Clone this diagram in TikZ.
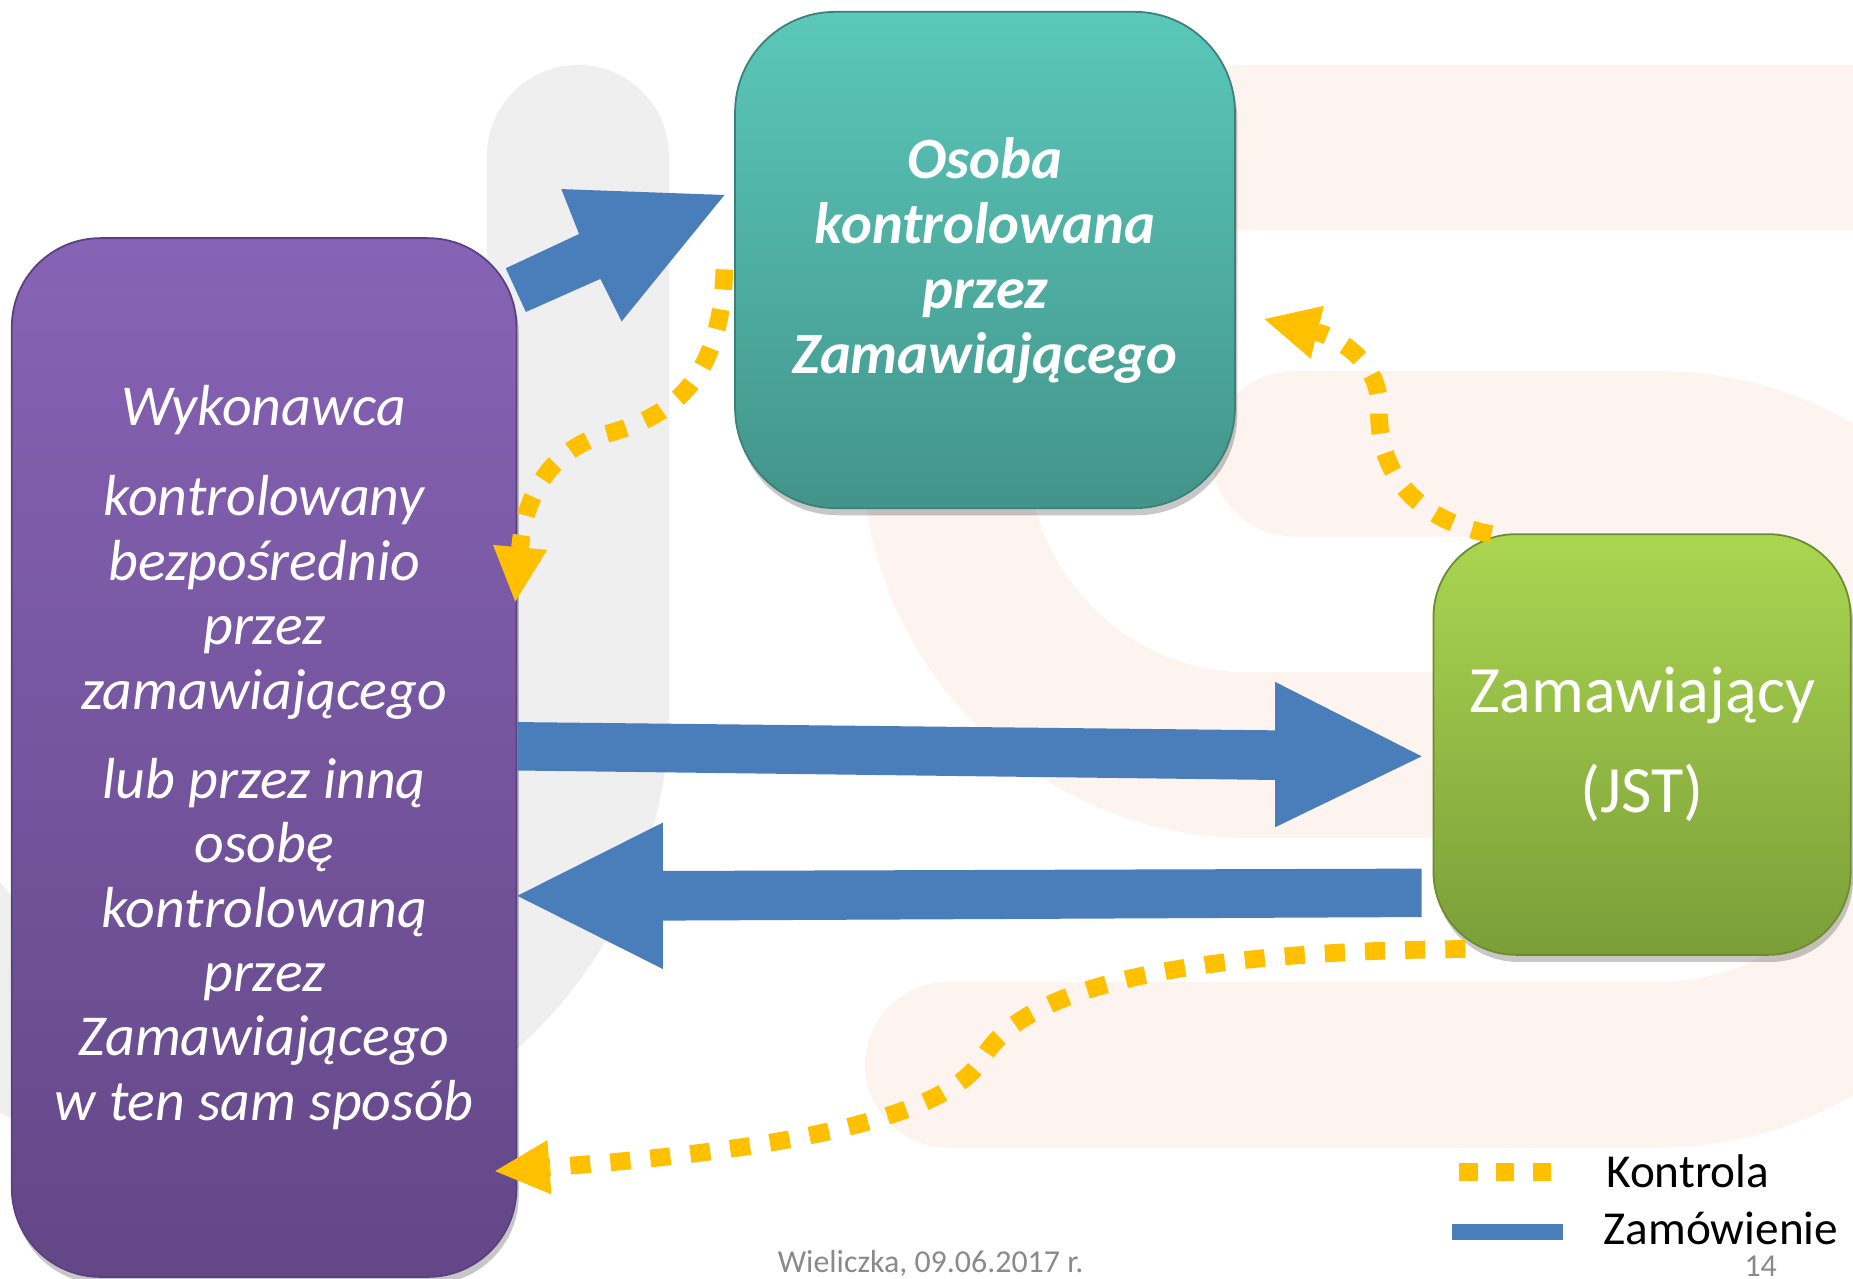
\documentclass[tikz,border=0pt]{standalone}
\usepackage{fontspec}
\setmainfont{Carlito}
\usetikzlibrary{arrows.meta,shadows}
\definecolor{zamBlue}{HTML}{4A7EBB}
\definecolor{ktrYellow}{HTML}{FFC000}
\definecolor{bgGrey}{HTML}{EFEFEF}
\definecolor{bgPeach}{HTML}{FDF4EF}
\definecolor{purTop}{HTML}{8763B5}
\definecolor{purBot}{HTML}{634787}
\definecolor{purLine}{HTML}{5A4080}
\definecolor{tealTop}{HTML}{5AC8BA}
\definecolor{tealBot}{HTML}{43948A}
\definecolor{tealLine}{HTML}{3A8278}
\definecolor{grnTop}{HTML}{AAD651}
\definecolor{grnBot}{HTML}{7B9E38}
\definecolor{grnLine}{HTML}{6C8C30}
\definecolor{footGrey}{HTML}{8A8A8A}
\tikzset{
  diagbox/.style={rectangle, inner sep=0pt, align=center, text=white, line width=1.5pt,
    drop shadow={shadow xshift=2pt, shadow yshift=-6pt, opacity=0.22, fill=black}},
  kontrola/.style={draw=ktrYellow, line width=15pt, dash pattern=on 17pt off 17pt,
    -{Triangle[length=46pt,width=46pt,line width=0pt]}},
  zamarrow/.style={fill=zamBlue},
  legtext/.style={anchor=base west, inner sep=0pt, text=black, text depth=0pt, font=\fontsize{40}{48}\selectfont},
  foot/.style={anchor=base west, inner sep=0pt, text=footGrey, font=\fontsize{27}{30}\selectfont},
}
\begin{document}
\begin{tikzpicture}[x=1pt,y=-1pt]
\useasboundingbox (0,0) rectangle (1568,1082);
\fill[white] (0,0) rectangle (1568,1082);
% background logo shapes
\begin{scope}
\clip (0,0) rectangle (1568,1082);
\draw[bgGrey, line width=154pt, line cap=round] (489,132) -- (489,600) arc[start angle=0, end angle=150, radius=309];
\draw[bgPeach, line width=140pt, line cap=round] (1700,125) -- (1057,125) arc[start angle=-90, end angle=-270, radius=257] -- (1250,639);
\draw[bgPeach, line width=140pt, line cap=round] (1095,384) -- (1403,384) arc[start angle=-90, end angle=90, radius=258.5] -- (802,901);
\end{scope}

% boxes
\node[diagbox, rounded corners=75pt, draw=purLine, top color=purTop, bottom color=purBot,
  minimum width=427pt, minimum height=879pt,
  font=\fontsize{49}{54.5}\selectfont\itshape] (wyk) at (223.5,641)
  {Wykonawca\\[22pt]kontrolowany\\bezpośrednio\\przez\\zamawiającego\\[21pt]lub przez inną\\osobę\\kontrolowaną\\przez\\Zamawiającego\\w ten sam sposób};
\node[diagbox, rounded corners=85pt, draw=tealLine, top color=tealTop, bottom color=tealBot,
  minimum width=423pt, minimum height=420pt,
  font=\fontsize{49.5}{55}\selectfont\bfseries\itshape] (osoba) at (833.5,220)
  {Osoba\\kontrolowana\\przez\\Zamawiającego};
\node[diagbox, rounded corners=70pt, draw=grnLine, top color=grnTop, bottom color=grnBot,
  minimum width=353pt, minimum height=356pt,
  font=\fontsize{56}{85}\selectfont] (zam) at (1389.5,630)
  {Zamawiający\\(JST)};

% Zamowienie block arrows
\coordinate (b1) at (428,227);
\coordinate (b1tip) at (613,165);
\fill[zamarrow] (b1) -- (490,198) -- (475,160) -- (b1tip) -- (526,272) -- (508,236) -- (445,264) -- cycle;
\coordinate (b2) at (wyk.east |- 0,611);
\coordinate (b2tip) at (1203,640);
\fill[zamarrow] (b2) -- (1079,618) -- (1079,577) -- (b2tip) -- (1079,700) -- (1079,660) -- (wyk.east |- 0,652) -- cycle;
\coordinate (b3) at (1203,735);
\coordinate (b3tip) at (wyk.east |- 0,758);
\fill[zamarrow] (b3) -- (561,737) -- (561,696) -- (b3tip) -- (561,820) -- (561,779) -- (1203,776) -- cycle;

% Kontrola dotted arrows
\coordinate (k1s) at (613,228);
\coordinate (k1e) at (436,509);
\draw[kontrola] (k1s) .. controls (610,330) and (560,355) .. (510,368)
  .. controls (465,382) and (444,420) .. (k1e);
\coordinate (k2s) at (1262,452);
\coordinate (k2e) at (1070,270);
\draw[kontrola] (k2s) .. controls (1198,440) and (1165,400) .. (1167,345)
  .. controls (1168,305) and (1130,285) .. (k2e);
\coordinate (k3s) at (1240,803);
\coordinate (k3e) at (419,991);
\draw[kontrola] (k3s) .. controls (1020,805) and (870,830) .. (832,895)
  .. controls (800,950) and (640,975) .. (k3e);

% legend
\coordinate (lk1) at (1235,991.5);
\coordinate (lk2) at (1313,991.5);
\draw[ktrYellow, line width=15.5pt, dash pattern=on 15.5pt off 15.5pt] (lk1) -- (lk2);
\coordinate (lz1) at (1229,1042.6);
\coordinate (lz2) at (1323,1042.6);
\draw[zamBlue, line width=14pt] (lz1) -- (lz2);
\node[legtext] (legK) at (1359,1005) {Kontrola};
\node[legtext] (legZ) at (1357,1053) {Zamówienie};

% footer
\node[foot] (date) at (658,1077) {Wieliczka, 09.06.2017 r.};
\node[foot, text height=18pt, text depth=0pt] (page) at (1476,1080) {14};
\end{tikzpicture}
\end{document}
